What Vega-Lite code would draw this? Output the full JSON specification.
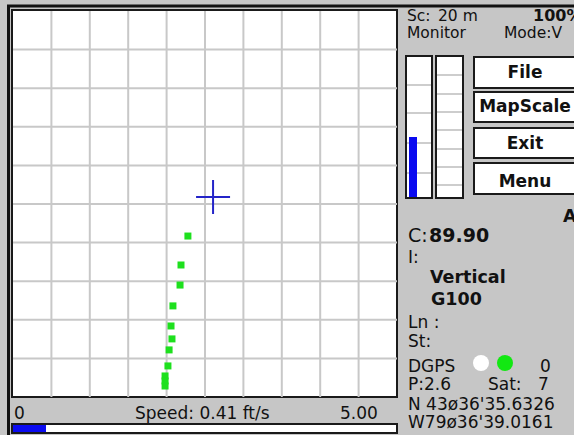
{
  "$schema": "https://vega.github.io/schema/vega-lite/v6.json",
  "width": 574,
  "height": 435,
  "autosize": {"type": "none"},
  "padding": 0,
  "background": "#c6c6c6",
  "config": {"view": {"stroke": null}, "axis": {"disable": true}, "legend": {"disable": true}},
  "datasets": {
    "boxes": [
      {"part": "map", "x": 12, "x2": 397, "y": 10, "y2": 397},
      {"part": "speed bar", "x": 12, "x2": 397, "y": 424, "y2": 433},
      {"part": "gauge 1", "x": 406, "x2": 432, "y": 56, "y2": 198},
      {"part": "gauge 2", "x": 436, "x2": 463, "y": 56, "y2": 198},
      {"part": "File", "x": 474, "x2": 582, "y": 57, "y2": 88},
      {"part": "MapScale", "x": 474, "x2": 582, "y": 92, "y2": 122},
      {"part": "Exit", "x": 474, "x2": 582, "y": 128, "y2": 158},
      {"part": "Menu", "x": 474, "x2": 582, "y": 163, "y2": 194}
    ],
    "frame": [
      {"x": 7, "x2": 574, "y": 6, "y2": 6},
      {"x": 8.5, "x2": 8.5, "y": 5, "y2": 435}
    ],
    "gaugeTicks": [
      {"x": 407, "x2": 431, "y": 85, "y2": 85},
      {"x": 407, "x2": 431, "y": 113, "y2": 113},
      {"x": 407, "x2": 431, "y": 143, "y2": 143},
      {"x": 407, "x2": 431, "y": 173, "y2": 173},
      {"x": 437, "x2": 462, "y": 75, "y2": 75},
      {"x": 437, "x2": 462, "y": 94, "y2": 94},
      {"x": 437, "x2": 462, "y": 112, "y2": 112},
      {"x": 437, "x2": 462, "y": 130, "y2": 130},
      {"x": 437, "x2": 462, "y": 149, "y2": 149},
      {"x": 437, "x2": 462, "y": 167, "y2": 167},
      {"x": 437, "x2": 462, "y": 185, "y2": 185}
    ],
    "levels": [
      {"part": "gauge 1 level", "x": 409, "x2": 417, "y": 137, "y2": 197},
      {"part": "speed level", "x": 13, "x2": 46, "y": 425, "y2": 432}
    ],
    "grid": [
      {"x": 20, "x2": 20, "y": 0, "y2": 200},
      {"x": 40, "x2": 40, "y": 0, "y2": 200},
      {"x": 60, "x2": 60, "y": 0, "y2": 200},
      {"x": 80, "x2": 80, "y": 0, "y2": 200},
      {"x": 100, "x2": 100, "y": 0, "y2": 200},
      {"x": 120, "x2": 120, "y": 0, "y2": 200},
      {"x": 140, "x2": 140, "y": 0, "y2": 200},
      {"x": 160, "x2": 160, "y": 0, "y2": 200},
      {"x": 180, "x2": 180, "y": 0, "y2": 200},
      {"x": 0, "x2": 200, "y": 20, "y2": 20},
      {"x": 0, "x2": 200, "y": 40, "y2": 40},
      {"x": 0, "x2": 200, "y": 60, "y2": 60},
      {"x": 0, "x2": 200, "y": 80, "y2": 80},
      {"x": 0, "x2": 200, "y": 100, "y2": 100},
      {"x": 0, "x2": 200, "y": 120, "y2": 120},
      {"x": 0, "x2": 200, "y": 140, "y2": 140},
      {"x": 0, "x2": 200, "y": 160, "y2": 160},
      {"x": 0, "x2": 200, "y": 180, "y2": 180}
    ],
    "trail": [
      {"east": 91.1, "north": 83.4},
      {"east": 87.5, "north": 68.4},
      {"east": 87.0, "north": 58.0},
      {"east": 83.3, "north": 47.2},
      {"east": 82.3, "north": 36.8},
      {"east": 82.8, "north": 30.1},
      {"east": 81.3, "north": 24.4},
      {"east": 80.7, "north": 16.1},
      {"east": 79.2, "north": 10.9},
      {"east": 79.2, "north": 8.3},
      {"east": 79.2, "north": 5.7}
    ],
    "position": [{"east": 104.2, "north": 103.6}],
    "header": [
      {"label": "Sc:", "x": 407, "y": 21},
      {"label": "20 m", "x": 438, "y": 21},
      {"label": "Monitor", "x": 407, "y": 38},
      {"label": "Mode:V", "x": 504, "y": 38}
    ],
    "headerBold": [
      {"label": "100%", "x": 533, "y": 21}
    ],
    "regular": [
      {"label": "I:", "x": 408, "y": 263},
      {"label": "Ln :", "x": 408, "y": 328},
      {"label": "St:", "x": 408, "y": 347},
      {"label": "DGPS", "x": 408, "y": 372},
      {"label": "0", "x": 540, "y": 372},
      {"label": "P:2.6", "x": 408, "y": 390},
      {"label": "Sat:", "x": 488, "y": 390},
      {"label": "7", "x": 538, "y": 390},
      {"label": "N 43ø36'35.6326", "x": 408, "y": 410},
      {"label": "W79ø36'39.0161", "x": 408, "y": 428},
      {"label": "0", "x": 14, "y": 419},
      {"label": "Speed: 0.41 ft/s", "x": 135, "y": 419},
      {"label": "5.00", "x": 340, "y": 419}
    ],
    "bold": [
      {"label": "A", "x": 563, "y": 222},
      {"label": "Vertical", "x": 430, "y": 283},
      {"label": "G100", "x": 431, "y": 305}
    ],
    "buttons": [
      {"label": "File", "x": 525, "y": 78},
      {"label": "MapScale", "x": 525, "y": 112},
      {"label": "Exit", "x": 525, "y": 149},
      {"label": "Menu", "x": 525, "y": 187}
    ],
    "courseLabel": [{"label": "C:", "x": 408, "y": 242}],
    "courseValue": [{"label": "89.90", "x": 429, "y": 242}],
    "indicators": [
      {"name": "DGPS", "state": "off", "x": 481, "y": 363},
      {"name": "GPS", "state": "on", "x": 505, "y": 363}
    ]
  },
  "layer": [
    {
      "layer": [
        {
          "data": {"name": "boxes"},
          "mark": {"type": "rect", "fill": "white", "stroke": "#1a1a1a", "strokeWidth": 2},
          "encoding": {
            "x": {"field": "x", "type": "quantitative", "scale": {"domain": [0, 574], "nice": false, "zero": false}},
            "x2": {"field": "x2"},
            "y": {"field": "y", "type": "quantitative", "scale": {"domain": [0, 435], "nice": false, "zero": false, "reverse": true}},
            "y2": {"field": "y2"}
          }
        },
        {
          "data": {"name": "frame"},
          "mark": {"type": "rule", "color": "#111111", "strokeWidth": 3},
          "encoding": {
            "x": {"field": "x", "type": "quantitative"},
            "x2": {"field": "x2"},
            "y": {"field": "y", "type": "quantitative"},
            "y2": {"field": "y2"}
          }
        },
        {
          "data": {"name": "gaugeTicks"},
          "mark": {"type": "rule", "color": "#bdbdbd", "strokeWidth": 1.5},
          "encoding": {
            "x": {"field": "x", "type": "quantitative"},
            "x2": {"field": "x2"},
            "y": {"field": "y", "type": "quantitative"},
            "y2": {"field": "y2"}
          }
        },
        {
          "data": {"name": "levels"},
          "mark": {"type": "rect", "fill": "#0a0af0"},
          "encoding": {
            "x": {"field": "x", "type": "quantitative"},
            "x2": {"field": "x2"},
            "y": {"field": "y", "type": "quantitative"},
            "y2": {"field": "y2"}
          }
        }
      ]
    },
    {
      "layer": [
        {
          "data": {"name": "grid"},
          "mark": {"type": "rule", "color": "#c8c8c8", "strokeWidth": 2},
          "encoding": {
            "x": {"field": "x", "type": "quantitative", "scale": {"domain": [-6.771, 292.19], "nice": false, "zero": false}},
            "x2": {"field": "x2"},
            "y": {"field": "y", "type": "quantitative", "scale": {"domain": [-19.69, 205.7], "nice": false, "zero": false}},
            "y2": {"field": "y2"}
          }
        },
        {
          "data": {"name": "trail"},
          "mark": {"type": "point", "shape": "square", "filled": true, "size": 49, "color": "#1ee01e", "opacity": 1},
          "encoding": {
            "x": {"field": "east", "type": "quantitative"},
            "y": {"field": "north", "type": "quantitative"}
          }
        },
        {
          "data": {"name": "position"},
          "mark": {"type": "point", "shape": "M-1,0H1M0,-1V1", "filled": false, "size": 1156, "stroke": "#2424c8", "strokeWidth": 2, "opacity": 1},
          "encoding": {
            "x": {"field": "east", "type": "quantitative"},
            "y": {"field": "north", "type": "quantitative"}
          }
        }
      ]
    },
    {
      "layer": [
        {
          "data": {"name": "header"},
          "mark": {"type": "text", "font": "DejaVu Sans", "fontSize": 15.5, "align": "left", "baseline": "alphabetic", "color": "#111111"},
          "encoding": {
            "x": {"field": "x", "type": "quantitative", "scale": {"domain": [0, 574], "nice": false, "zero": false}},
            "y": {"field": "y", "type": "quantitative", "scale": {"domain": [0, 435], "nice": false, "zero": false, "reverse": true}},
            "text": {"field": "label"}
          }
        },
        {
          "data": {"name": "headerBold"},
          "mark": {"type": "text", "font": "DejaVu Sans", "fontSize": 16, "fontWeight": "bold", "align": "left", "baseline": "alphabetic", "color": "#111111"},
          "encoding": {
            "x": {"field": "x", "type": "quantitative"},
            "y": {"field": "y", "type": "quantitative"},
            "text": {"field": "label"}
          }
        },
        {
          "data": {"name": "regular"},
          "mark": {"type": "text", "font": "DejaVu Sans", "fontSize": 17, "align": "left", "baseline": "alphabetic", "color": "#111111"},
          "encoding": {
            "x": {"field": "x", "type": "quantitative"},
            "y": {"field": "y", "type": "quantitative"},
            "text": {"field": "label"}
          }
        },
        {
          "data": {"name": "bold"},
          "mark": {"type": "text", "font": "DejaVu Sans", "fontSize": 17.5, "fontWeight": "bold", "align": "left", "baseline": "alphabetic", "color": "#111111"},
          "encoding": {
            "x": {"field": "x", "type": "quantitative"},
            "y": {"field": "y", "type": "quantitative"},
            "text": {"field": "label"}
          }
        },
        {
          "data": {"name": "buttons"},
          "mark": {"type": "text", "font": "DejaVu Sans", "fontSize": 17, "fontWeight": "bold", "align": "center", "baseline": "alphabetic", "color": "#111111"},
          "encoding": {
            "x": {"field": "x", "type": "quantitative"},
            "y": {"field": "y", "type": "quantitative"},
            "text": {"field": "label"}
          }
        },
        {
          "data": {"name": "courseLabel"},
          "mark": {"type": "text", "font": "DejaVu Sans", "fontSize": 19, "align": "left", "baseline": "alphabetic", "color": "#111111"},
          "encoding": {
            "x": {"field": "x", "type": "quantitative"},
            "y": {"field": "y", "type": "quantitative"},
            "text": {"field": "label"}
          }
        },
        {
          "data": {"name": "courseValue"},
          "mark": {"type": "text", "font": "DejaVu Sans", "fontSize": 19, "fontWeight": "bold", "align": "left", "baseline": "alphabetic", "color": "#111111"},
          "encoding": {
            "x": {"field": "x", "type": "quantitative"},
            "y": {"field": "y", "type": "quantitative"},
            "text": {"field": "label"}
          }
        },
        {
          "data": {"name": "indicators"},
          "mark": {"type": "point", "shape": "circle", "filled": true, "size": 256, "opacity": 1},
          "encoding": {
            "x": {"field": "x", "type": "quantitative"},
            "y": {"field": "y", "type": "quantitative"},
            "color": {"field": "state", "type": "nominal", "scale": {"domain": ["off", "on"], "range": ["#ffffff", "#12e812"]}, "legend": null}
          }
        }
      ]
    }
  ],
  "resolve": {"scale": {"x": "independent", "y": "independent"}}
}
